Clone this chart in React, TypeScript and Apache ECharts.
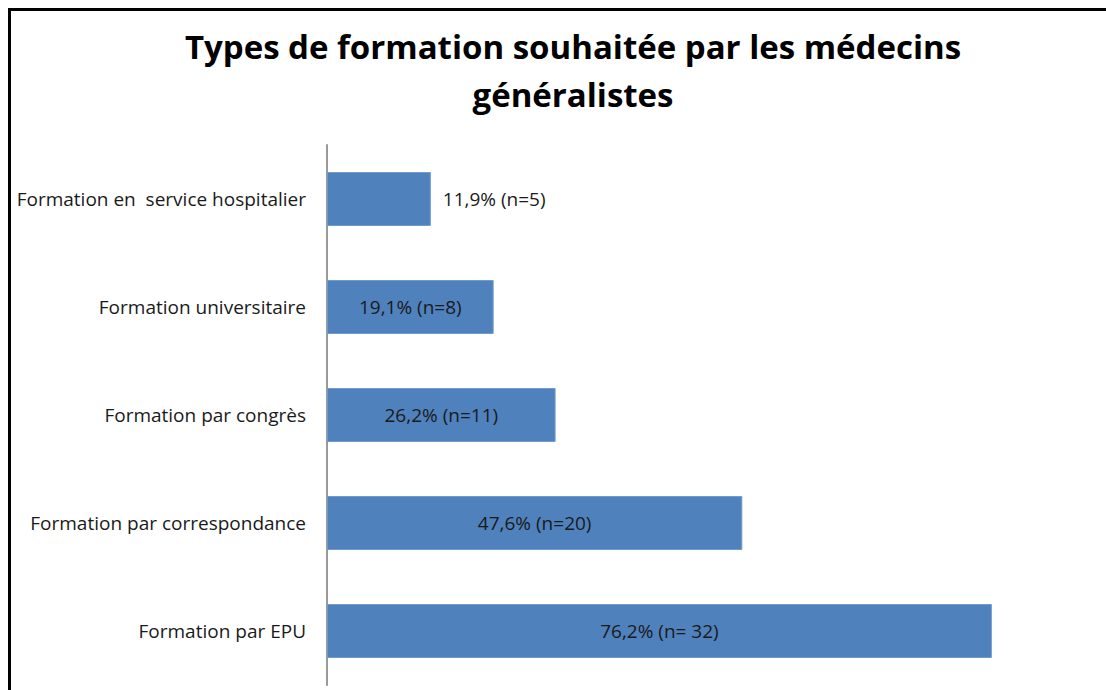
import React, { useEffect, useRef } from "react";
import * as echarts from "echarts";

const categories = [
  "Formation en  service hospitalier",
  "Formation universitaire",
  "Formation par congrès",
  "Formation par correspondance",
  "Formation par EPU",
];
const percentValues = [11.9, 19.1, 26.2, 47.6, 76.2];
const barLabels = [
  "11,9% (n=5)",
  "19,1% (n=8)",
  "26,2% (n=11)",
  "47,6% (n=20)",
  "76,2% (n= 32)",
];
const titleText = "Types de formation souhaitée par les médecins\ngénéralistes";

export default function App() {
  const ref = useRef<HTMLDivElement>(null);
  useEffect(() => {
    if (!ref.current) return;
    const chart = echarts.init(ref.current, null, { renderer: "svg" });
    const font = "Open Sans";
    chart.setOption({
      animation: false,
      backgroundColor: "#ffffff",
      title: {
        text: titleText,
        left: 568,
        textAlign: "center",
        top: 17,
        textStyle: {
          fontFamily: font,
          fontWeight: "bold",
          fontSize: 33,
          lineHeight: 48,
          color: "#000000",
        },
      },
      graphic: [
        {
          type: "rect",
          shape: { x: 9.5, y: 9.5, width: 1300, height: 900 },
          style: { fill: "none", stroke: "#000000", lineWidth: 3 },
          silent: true,
        },
      ],
      grid: { left: 327, top: 145, width: 698, height: 540, containLabel: false },
      xAxis: {
        type: "value",
        min: 0,
        max: 80,
        show: false,
      },
      yAxis: {
        type: "category",
        inverse: true,
        data: categories,
        axisLine: { show: true, lineStyle: { color: "#9a9a9a", width: 2 } },
        axisTick: { show: false },
        axisLabel: {
          margin: 21,
          fontFamily: font,
          fontSize: 19,
          color: "#1a1a1a",
        },
      },
      series: [
        {
          type: "bar",
          barWidth: "50%",
          data: percentValues.map((v, i) => ({
            value: v,
            label: i === 0
              ? { position: "right", distance: 12 }
              : { position: "inside" },
          })),
          itemStyle: { color: "#4F81BD", borderColor: "#6f9bd0", borderWidth: 1 },
          label: {
            show: true,
            fontFamily: font,
            fontSize: 19,
            color: "#1a1a1a",
            formatter: (p: any) => barLabels[p.dataIndex],
          },
        },
      ],
    });
    return () => chart.dispose();
  }, []);
  return (
    <div
      ref={ref}
      style={{ position: "fixed", left: 0, top: 0, width: 1106, height: 690 }}
    />
  );
}
